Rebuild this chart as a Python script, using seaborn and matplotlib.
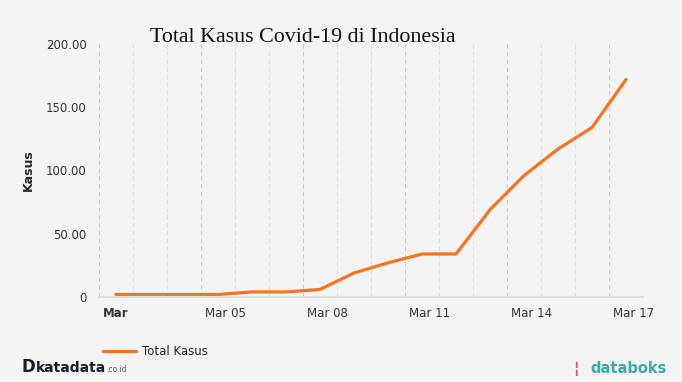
import pandas as pd
import matplotlib.pyplot as plt
import matplotlib.transforms as mtransforms
import seaborn as sns

tanggal = ['2020-03-02', '2020-03-03', '2020-03-04', '2020-03-05', '2020-03-06',
           '2020-03-07', '2020-03-08', '2020-03-09', '2020-03-10', '2020-03-11',
           '2020-03-12', '2020-03-13', '2020-03-14', '2020-03-15', '2020-03-16',
           '2020-03-17']
total_kasus = [2, 2, 2, 2, 4, 4, 6, 19, 27, 34, 34, 69, 96, 117, 134, 172]
tick_labels = ['Mar', 'Mar 05', 'Mar 08', 'Mar 11', 'Mar 14', 'Mar 17']

bg = '#f4f4f4'
oranye = '#f47421'

sns.set_style('white', {'axes.facecolor': bg, 'figure.facecolor': bg})
plt.rcParams['font.family'] = ['DejaVu Sans']

df = pd.DataFrame({'Tanggal': pd.to_datetime(tanggal) + pd.Timedelta(hours=12),
                   'Total Kasus': total_kasus})

fig = plt.figure(figsize=(6.82, 3.82), dpi=100)
ax = fig.add_axes([0.145, 0.2225, 0.798, 0.6625])

sns.lineplot(data=df, x='Tanggal', y='Total Kasus', color=oranye, linewidth=2.3,
             label='Total Kasus', ax=ax)

x0 = pd.Timestamp('2020-03-02')
x1 = pd.Timestamp('2020-03-18')
ax.set_xlim(x0, x1)
ax.set_ylim(0, 200)

# grid harian (putus-putus)
for d in pd.date_range(x0, x1, freq='D'):
    major = (d - x0).days % 3 == 0 and d < x1
    ax.axvline(d, color='#cccccc' if major else '#e0e0e0', linestyle=(0, (4, 3)),
               linewidth=0.8, zorder=0)

major_ticks = pd.date_range(x0, periods=6, freq='3D')
ax.set_xticks(major_ticks)
ax.set_xticklabels(tick_labels, ha='left')
ax.get_xticklabels()[0].set_fontweight('bold')
ax.tick_params(axis='x', length=6, color='#d0d0d0', labelsize=8.5, labelcolor='#333333', pad=1)
geser = mtransforms.ScaledTranslation(4 / 100, 0, fig.dpi_scale_trans)
for lbl in ax.get_xticklabels():
    lbl.set_transform(lbl.get_transform() + geser)

ax.set_yticks([0, 50, 100, 150, 200])
ax.set_yticklabels(['0', '50.00', '100.00', '150.00', '200.00'])
ax.tick_params(axis='y', length=6, color='white', labelsize=8.5, labelcolor='#333333', pad=3)

for s in ['top', 'right', 'left']:
    ax.spines[s].set_visible(False)
ax.spines['bottom'].set_color('#dedede')
ax.spines['bottom'].set_linewidth(1.5)

ax.set_xlabel('')
ax.set_ylabel('Kasus', fontsize=9, fontweight='bold')
ax.yaxis.set_label_coords(-0.118, 0.5)

fig.text(0.22, 0.89, 'Total Kasus Covid-19 di Indonesia', fontsize=15.8,
         family=['Liberation Serif', 'DejaVu Serif'], color='#111111')

ax.legend(loc='center left', bbox_to_anchor=(0.135, 0.08), bbox_transform=fig.transFigure,
          frameon=False, fontsize=8.5, handlelength=2.8, handletextpad=0.5)

fig.text(0.032, 0.025, 'D', fontsize=12, fontweight='bold', color='#1a1a2e')
fig.text(0.053, 0.027, 'katadata', fontsize=10, fontweight='bold', color='#1a1a2e')
fig.text(0.156, 0.027, '.co.id', fontsize=5.5, color='#555555')
fig.text(0.84, 0.024, '\u00a6', fontsize=11, color='#e0524a', fontweight='bold')
fig.text(0.866, 0.024, 'databoks', fontsize=10.5, color='#3aa9a9', fontweight='bold')

fig.savefig('out.png', dpi=100, facecolor=bg)
